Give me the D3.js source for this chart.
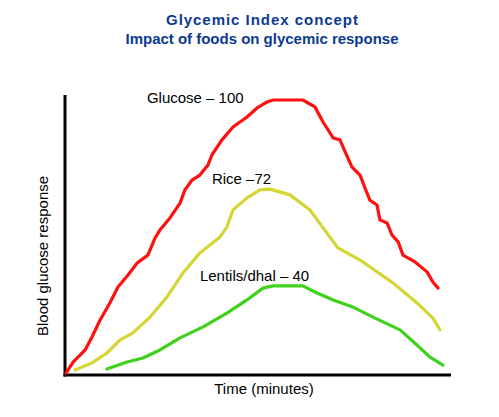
<!DOCTYPE html>
<html>
<head>
<meta charset="utf-8">
<script src="https://cdn.jsdelivr.net/npm/d3@7"></script>
<style>
  body { margin: 0; background: #fff; }
  svg { display: block; font-family: "Liberation Sans", Arial, sans-serif; }
</style>
</head>
<body>
<div id="chart"></div>
<script>
// Time (arbitrary minutes scale) and response values
const glucoseTime = [0.3,2.5,6.2,8.3,10.8,13.8,16.3,19.4,22.2,25.5,27.7,29.2,32.3,35.4,36.9,39.1,41.5,44.0,45.2,48.3,51.7,56.0,59.1,62.2,64.0,73.2,76.9,79.4,82.5,84.6,86.2,88.3,90.8,92.3,93.8,96.0,96.9,99.1,100.6,102.5,104.0,107.7,111.4,113.2,114.8];
const glucoseValue = [0.7,4.7,9.1,13.8,20.0,26.2,32.0,36.4,40.7,43.6,49.8,52.7,57.1,62.5,67.3,70.9,72.7,76.4,80.0,85.5,90.2,93.8,97.1,99.3,100,100,97.5,92.0,86.2,85.5,81.1,75.6,72.7,68.0,63.6,61.8,56.4,55.3,50.9,48.4,43.6,41.1,37.5,33.8,31.6];

const riceTime = [3.1,8.3,12.9,16.9,20.9,26.2,31.4,36.3,41.5,47.7,49.8,51.7,56.0,60.0,63.1,69.2,75.4,79.4,84.0,90.8,100.9,108.3,113.2,115.4];
const riceValue = [1.8,4.4,8.0,12.7,15.3,21.1,28.4,37.1,44.4,50.2,53.8,60.0,64.4,67.3,67.6,65.5,60.0,53.5,46.2,41.8,33.5,26.2,20.7,16.4];

const lentilTime = [12.9,19.1,24.0,29.2,35.4,42.5,49.8,56.0,60.9,64.0,73.2,76.9,82.5,88.6,95.4,103.1,108.3,112.3,116.3];
const lentilValue = [2.2,4.7,6.2,9.1,13.5,17.5,22.5,27.3,31.6,32.4,32.4,30.2,27.3,24.7,20.7,16.4,10.9,6.5,3.6];

const seriesNames = ["Glucose – 100", "Rice –72", "Lentils/dhal – 40"];
const labelTime = [25.2, 45.2, 41.5];
const labelValue = [99.0, 69.5, 34.3];

const titleLines = ["Glycemic Index concept", "Impact of foods on glycemic response"];
const xTitle = "Time (minutes)";
const yTitle = "Blood glucose response";

const W = 499, H = 417;
const svg = d3.select("#chart").append("svg").attr("width", W).attr("height", H);

const x = d3.scaleLinear().domain([0, 120]).range([65, 455]);
const y = d3.scaleLinear().domain([0, 100]).range([375, 100]);

const series = [
  {t: glucoseTime, v: glucoseValue, color: "#ff1010"},
  {t: riceTime, v: riceValue, color: "#d5d535"},
  {t: lentilTime, v: lentilValue, color: "#3fd21c"}
];

// title
const titleWidths = [192, 273];
svg.append("g").selectAll("text").data(titleLines).join("text")
  .attr("x", 262).attr("y", (d, i) => 25 + i * 19)
  .attr("text-anchor", "middle")
  .attr("font-weight", "bold").attr("font-size", 15)
  .attr("fill", "#0b3a92")
  .attr("textLength", (d, i) => titleWidths[i])
  .attr("lengthAdjust", "spacing")
  .text(d => d);

// axes
svg.append("line")
  .attr("x1", x(0)).attr("x2", x(0))
  .attr("y1", 95).attr("y2", y(0) + 1.5)
  .attr("stroke", "#000").attr("stroke-width", 3);
svg.append("line")
  .attr("x1", x(0) - 1.5).attr("x2", 451)
  .attr("y1", y(0)).attr("y2", y(0))
  .attr("stroke", "#000").attr("stroke-width", 3);

const line = d3.line().x(d => x(d[0])).y(d => y(d[1])).curve(d3.curveLinear);

svg.append("g").selectAll("path").data(series).join("path")
  .attr("d", s => line(s.t.map((t, i) => [t, s.v[i]])))
  .attr("fill", "none")
  .attr("stroke", s => s.color)
  .attr("stroke-width", 3.2)
  .attr("stroke-linejoin", "round")
  .attr("stroke-linecap", "round");

// series labels
svg.append("g").selectAll("text").data(seriesNames).join("text")
  .attr("x", (d, i) => x(labelTime[i]))
  .attr("y", (d, i) => y(labelValue[i]))
  .attr("font-size", 15).attr("fill", "#000")
  .text(d => d);

// axis titles
svg.append("text")
  .attr("x", 264).attr("y", 394)
  .attr("text-anchor", "middle").attr("font-size", 15)
  .text(xTitle);
svg.append("text")
  .attr("transform", "translate(48,256) rotate(-90)")
  .attr("text-anchor", "middle").attr("font-size", 15)
  .text(yTitle);
</script>
</body>
</html>
